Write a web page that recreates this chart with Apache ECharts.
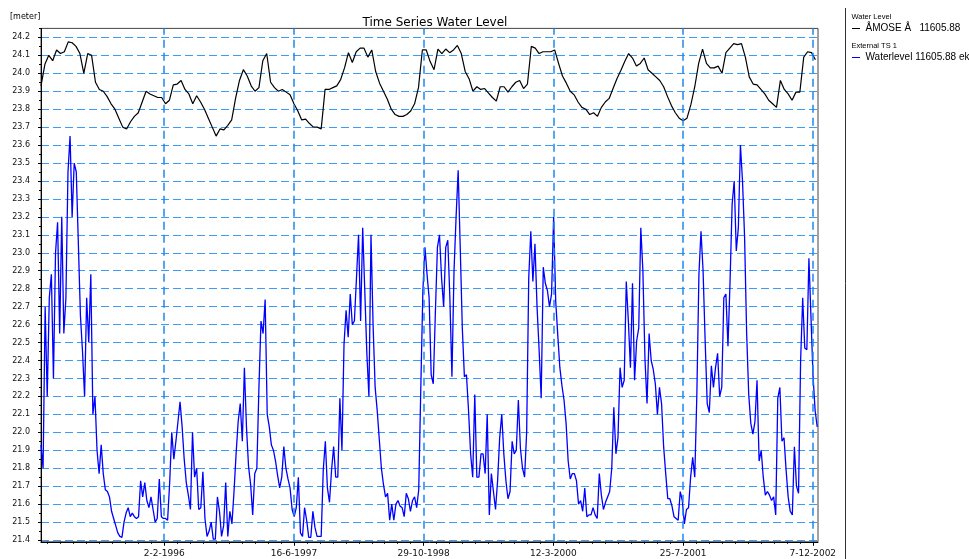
<!DOCTYPE html>
<html>
<head>
<meta charset="utf-8">
<script src="https://cdn.jsdelivr.net/npm/echarts@6/dist/echarts.min.js"></script>
<style>
  html, body { margin: 0; padding: 0; background: #fff; }
  #chart { width: 969px; height: 559px; }
</style>
</head>
<body>
<div id="chart"></div>
<script>
// Sampling of the two records: first sample date and spacing in days
const startDate = '1994-10-15';
const endDate = '2002-12-27';
const levelStepDays = 15;
const externalStepDays = 8;

// Water Level — ÅMOSE Å 11605.88 [meter]
const levelValues = [
  23.93, 24.05, 24.10, 24.07, 24.13, 24.11, 24.12, 24.175, 24.17, 24.15,
  24.11, 24.00, 24.11, 24.10, 23.95, 23.91, 23.90, 23.87, 23.83, 23.80,
  23.75, 23.70, 23.69, 23.73, 23.76, 23.78, 23.84, 23.90, 23.885, 23.875,
  23.865, 23.865, 23.83, 23.85, 23.935, 23.94, 23.96, 23.91, 23.885, 23.83,
  23.875, 23.84, 23.80, 23.75, 23.70, 23.65, 23.69, 23.685, 23.71, 23.74,
  23.86, 23.96, 24.02, 23.985, 23.93, 23.90, 23.92, 24.07, 24.11, 23.95,
  23.92, 23.90, 23.91, 23.895, 23.88, 23.83, 23.79, 23.74, 23.745, 23.72,
  23.70, 23.70, 23.69, 23.91, 23.91, 23.92, 23.93, 23.965, 24.03, 24.115,
  24.06, 24.12, 24.14, 24.14, 24.09, 24.13, 24.01, 23.945, 23.90, 23.855,
  23.80, 23.77, 23.76, 23.76, 23.77, 23.79, 23.83, 23.92, 24.13, 24.13,
  24.065, 24.02, 24.135, 24.11, 24.135, 24.115, 24.13, 24.155, 24.11, 24.01,
  23.97, 23.90, 23.925, 23.91, 23.915, 23.89, 23.865, 23.845, 23.925, 23.925,
  23.895, 23.925, 23.95, 23.96, 23.915, 23.94, 24.15, 24.14, 24.11, 24.12,
  24.12, 24.12, 24.13, 24.055, 23.985, 23.945, 23.90, 23.88, 23.84, 23.81,
  23.80, 23.77, 23.78, 23.76, 23.81, 23.84, 23.86, 23.915, 23.97, 24.015,
  24.065, 24.11, 24.085, 24.04, 24.055, 24.085, 24.02, 24.00, 23.98, 23.96,
  23.925, 23.87, 23.82, 23.78, 23.75, 23.735, 23.75, 23.825, 23.925, 24.055,
  24.135, 24.055, 24.03, 24.03, 24.04, 24.00, 24.115, 24.14, 24.165, 24.16,
  24.165, 24.09, 23.98, 23.94, 23.935, 23.91, 23.885, 23.85, 23.83, 23.81,
  23.96, 23.91, 23.885, 23.85, 23.895, 23.895, 24.09, 24.12, 24.115, 24.075
];

// External TS 1 — Waterlevel 11605.88 [meter]
const externalValues = [
  21.93, 21.80, 22.70, 22.20, 22.75, 22.88, 22.30, 23.00, 23.17, 22.55,
  23.20, 22.55, 22.75, 23.45, 23.65, 23.20, 23.50, 23.45, 23.05, 22.65,
  22.45, 22.20, 22.75, 22.50, 22.88, 22.10, 22.20, 21.90, 21.77, 21.93,
  21.77, 21.68, 21.67, 21.64, 21.56, 21.52, 21.48, 21.44, 21.42, 21.415,
  21.50, 21.55, 21.58, 21.53, 21.55, 21.53, 21.52, 21.53, 21.73, 21.64,
  21.72, 21.62, 21.58, 21.64, 21.57, 21.50, 21.52, 21.74, 21.53, 21.52,
  21.52, 21.51, 21.72, 22.00, 21.85, 21.95, 22.06, 22.17, 22.03, 21.85,
  21.72, 21.65, 21.57, 22.00, 21.75, 21.80, 21.57, 21.58, 21.78, 21.52,
  21.42, 21.45, 21.50, 21.405, 21.405, 21.64, 21.56, 21.42, 21.48, 21.72,
  21.42, 21.56, 21.49, 21.67, 21.88, 22.06, 22.16, 21.95, 22.36, 22.03,
  21.81, 21.71, 21.54, 21.77, 21.80, 22.25, 22.62, 22.55, 22.74, 22.10,
  22.03, 21.93, 21.90, 21.84, 21.76, 21.69, 21.75, 21.92, 21.80, 21.74,
  21.69, 21.57, 21.53, 21.58, 21.75, 21.44, 21.42, 21.58, 21.51, 21.415,
  21.415, 21.56, 21.47, 21.42, 21.42, 21.42, 21.79, 21.95, 21.69, 21.61,
  21.79, 21.92, 21.75, 21.75, 22.19, 21.90, 22.49, 22.68, 22.53, 22.77,
  22.60, 22.62, 22.86, 23.10, 22.62, 23.14, 22.79, 22.44, 22.20, 23.10,
  22.60, 22.25, 22.12, 21.96, 21.80, 21.71, 21.64, 21.66, 21.51, 21.60,
  21.51, 21.60, 21.62, 21.59, 21.58, 21.53, 21.66, 21.63, 21.56, 21.62,
  21.64, 21.58, 21.68, 22.25, 22.79, 23.03, 22.88, 22.75, 22.32, 22.27,
  22.66, 23.03, 23.10, 22.86, 22.70, 23.03, 23.07, 22.75, 22.31, 22.90,
  23.20, 23.46, 23.03, 22.58, 22.31, 22.32, 22.12, 21.88, 21.75, 22.21,
  21.75, 21.75, 21.88, 21.88, 21.77, 22.10, 21.54, 21.77, 21.67, 21.57,
  21.73, 21.97, 22.10, 21.88, 21.73, 21.63, 21.67, 21.95, 21.88, 21.90,
  22.18, 21.91, 21.80, 21.75, 22.00, 22.86, 23.12, 22.84, 23.05, 22.70,
  22.46, 22.19, 22.92, 22.83, 22.79, 22.70, 22.77, 23.20, 22.73, 22.54,
  22.36, 22.26, 22.18, 22.05, 21.84, 21.74, 21.77, 21.77, 21.73, 21.60,
  21.62, 21.56, 21.69, 21.53, 21.54, 21.54, 21.58, 21.54, 21.52, 21.77,
  21.65, 21.57, 21.61, 21.64, 21.67, 21.80, 22.14, 21.88, 21.97, 22.36,
  22.25, 22.29, 22.84, 22.62, 22.36, 22.83, 22.29, 22.51, 22.58, 23.14,
  22.90, 22.41, 22.16, 22.55, 22.40, 22.35, 22.27, 22.10, 22.25, 22.16,
  21.92, 21.77, 21.63, 21.63, 21.59, 21.53, 21.52, 21.51, 21.67, 21.62,
  21.49, 21.57, 21.58, 21.75, 21.86, 21.75, 22.21, 22.88, 23.12, 22.90,
  22.51, 22.16, 22.11, 22.37, 22.25, 22.36, 22.44, 22.20, 22.25, 22.75,
  22.77, 22.48, 22.84, 23.27, 23.40, 23.01, 23.14, 23.60, 23.40, 23.09,
  22.55, 22.21, 22.05, 21.99, 22.06, 22.29, 21.84, 21.90, 21.75, 21.65,
  21.67, 21.65, 21.62, 21.64, 21.54, 22.19, 22.25, 21.95, 21.97, 21.79,
  21.64, 21.56, 21.54, 21.92, 21.70, 21.66, 22.40, 22.75, 22.47, 22.46,
  22.97, 22.64, 22.31, 22.12, 22.03
];

// Labelled dates on the time axis (d-m-yyyy) and spacing of the small ticks
const dateTicks = ['2-2-1996', '16-6-1997', '29-10-1998', '12-3-2000', '25-7-2001', '7-12-2002'];
const minorTickStepDays = 50;

// Labelled water levels on the value axis
const levelTicks = [
  21.4, 21.5, 21.6, 21.7, 21.8, 21.9, 22.0, 22.1, 22.2, 22.3,
  22.4, 22.5, 22.6, 22.7, 22.8, 22.9, 23.0, 23.1, 23.2, 23.3,
  23.4, 23.5, 23.6, 23.7, 23.8, 23.9, 24.0, 24.1, 24.2
];
const levelMin = 21.39;
const levelMax = 24.25;

const seriesNames = ['ÅMOSE Å   11605.88', 'Waterlevel 11605.88 ekstern'];
const groupHeadings = ['Water Level', 'External TS 1'];
const seriesColors = ['#000000', '#0000ff'];

// ---------- helpers ----------
const DAY = 86400000;
function isoToDay(s) {
  const p = s.split('-').map(Number);
  return Date.UTC(p[0], p[1] - 1, p[2]) / DAY;
}
function dmyToDay(s) {
  const p = s.split('-').map(Number);
  return Date.UTC(p[2], p[1] - 1, p[0]) / DAY;
}
function dayToDmy(d) {
  const t = new Date(Math.round(d) * DAY);
  return t.getUTCDate() + '-' + (t.getUTCMonth() + 1) + '-' + t.getUTCFullYear();
}

const startDay = isoToDay(startDate);
const endDay = isoToDay(endDate);
const majorDays = dateTicks.map(dmyToDay);
const minorDays = [];
for (let d = majorDays[0]; d >= startDay; d -= minorTickStepDays) minorDays.push(d);
for (let d = majorDays[0] + minorTickStepDays; d <= endDay; d += minorTickStepDays) minorDays.push(d);
const minorLevels = levelTicks.map(v => +(v + 0.05).toFixed(2));

const levelData = levelValues.map((v, i) => [startDay + i * levelStepDays, v]);
const externalData = externalValues.map((v, i) => [startDay + i * externalStepDays, v]);

const FONT = '"DejaVu Sans", "Liberation Sans", Arial, sans-serif';
const ARIAL = '"Liberation Sans", Arial, sans-serif';

// legend block at the right of the plot: heading, line swatch + series name
function legendBlock(heading, name, color, top) {
  return [
    { type: 'text', x: 851.5, y: top, style: { text: heading, font: '7.5px ' + ARIAL, fill: '#000', textVerticalAlign: 'middle' } },
    { type: 'line', shape: { x1: 852, y1: top + 11.5, x2: 860, y2: top + 11.5 }, style: { stroke: color, lineWidth: 1 } },
    { type: 'text', x: 865.5, y: top + 11.5, style: { text: name, font: '10px ' + ARIAL, fill: '#000', textVerticalAlign: 'middle' } }
  ];
}

const chart = echarts.init(document.getElementById('chart'), null, { renderer: 'canvas' });

chart.setOption({
  animation: false,
  backgroundColor: '#fff',
  title: {
    text: 'Time Series Water Level',
    left: 430,
    top: 12,
    textAlign: 'center',
    textStyle: { fontFamily: FONT, fontSize: 12, fontWeight: 'normal', color: '#000' }
  },
  grid: {
    left: 41, right: 151, top: 28.4, bottom: 17.2,
    show: true, borderColor: '#444', borderWidth: 1, backgroundColor: 'transparent'
  },
  graphic: [
    { type: 'line', shape: { x1: 845.5, y1: 8, x2: 845.5, y2: 559 }, style: { stroke: '#333', lineWidth: 1 } },
    { type: 'text', left: 10, top: 13, style: { text: '[meter]', font: '8px ' + FONT, fill: '#000' } }
  ]
    .concat(legendBlock(groupHeadings[0], seriesNames[0], seriesColors[0], 17))
    .concat(legendBlock(groupHeadings[1], seriesNames[1], seriesColors[1], 46)),
  xAxis: [
    {
      type: 'value', min: startDay, max: endDay, position: 'bottom',
      axisLine: { show: true, lineStyle: { color: '#000', width: 1 } },
      axisTick: { show: true, customValues: majorDays, length: 4, lineStyle: { color: '#000' } },
      axisLabel: {
        customValues: majorDays, formatter: v => dayToDmy(v), margin: 7,
        fontFamily: FONT, fontSize: 9, color: '#111'
      },
      splitLine: { show: false }
    },
    {
      type: 'value', min: startDay, max: endDay, position: 'bottom',
      axisLine: { show: false },
      axisTick: { show: true, customValues: minorDays, length: 2, lineStyle: { color: '#000' } },
      axisLabel: { show: false },
      splitLine: { show: false }
    }
  ],
  yAxis: [
    {
      type: 'value', min: levelMin, max: levelMax, position: 'left',
      axisLine: { show: true, lineStyle: { color: '#000', width: 1 } },
      axisTick: { show: true, customValues: levelTicks, length: 3, lineStyle: { color: '#000' } },
      axisLabel: {
        customValues: levelTicks, formatter: v => v.toFixed(1), margin: 11,
        fontFamily: FONT, fontSize: 8, color: '#111'
      },
      splitLine: { show: true, lineStyle: { color: '#3d9bf7', width: 1.2, type: [8, 4] } }
    },
    {
      type: 'value', min: levelMin, max: levelMax, position: 'left',
      axisLine: { show: false },
      axisTick: { show: true, customValues: minorLevels, length: 2, lineStyle: { color: '#000' } },
      axisLabel: { show: false },
      splitLine: { show: false }
    }
  ],
  series: [
    {
      name: seriesNames[0], type: 'line', data: levelData,
      xAxisIndex: 0, yAxisIndex: 0, showSymbol: false, symbol: 'none', z: 3,
      lineStyle: { color: seriesColors[0], width: 1.2 }, itemStyle: { color: seriesColors[0] },
      // vertical date grid lines at the labelled dates
      markLine: {
        silent: true, symbol: 'none', label: { show: false }, animation: false,
        lineStyle: { color: '#1f86ee', width: 1.5, type: [8, 5] },
        emphasis: { disabled: true },
        data: majorDays.map(d => ({ xAxis: d }))
      }
    },
    {
      name: seriesNames[1], type: 'line', data: externalData,
      xAxisIndex: 0, yAxisIndex: 0, showSymbol: false, symbol: 'none', z: 3,
      lineStyle: { color: seriesColors[1], width: 1.3 }, itemStyle: { color: seriesColors[1] }
    }
  ]
});
</script>
</body>
</html>
